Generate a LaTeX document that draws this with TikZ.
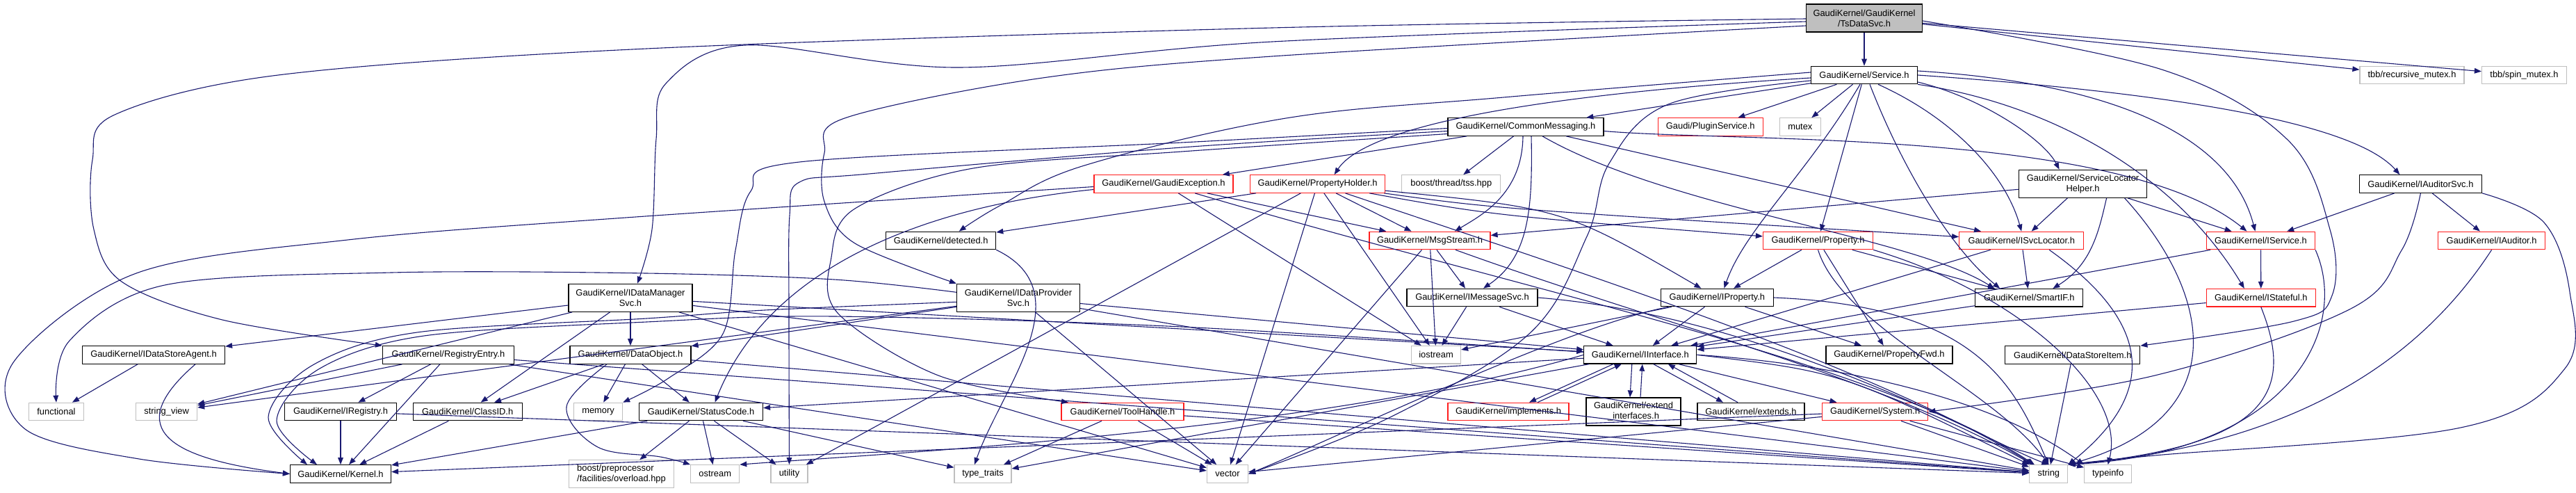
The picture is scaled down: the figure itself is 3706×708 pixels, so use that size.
\documentclass[tikz,border=0pt]{standalone}
\usepackage{fontspec}
\setmainfont{Liberation Sans}
\usetikzlibrary{arrows.meta}
\definecolor{edgeblue}{RGB}{25,25,112}
\definecolor{doxred}{RGB}{255,30,30}
\definecolor{extgray}{RGB}{191,191,191}
\tikzset{
  box/.style={rectangle, inner sep=0pt, minimum height=12.75pt, font=\fontsize{6.45}{7.5}\selectfont, line width=0.6pt},
  doc/.style={box, draw=black},
  redbox/.style={box, draw=doxred},
  ext/.style={box, draw=extgray},
  rootbox/.style={box, draw=black, fill=extgray},
  two/.style={minimum height=20pt, align=center},
  bw/.style={minimum width=#1*0.5pt},
  e/.style={draw=edgeblue, line width=0.55pt, -{Triangle[length=5pt,width=3.8pt]}},
}
\begin{document}
\begin{tikzpicture}[x=0.5pt,y=-0.5pt]
\useasboundingbox (0,0) rectangle (3706,708);
% ---------- nodes
\node[rootbox,two,bw=167] (r) at (2682,26) {GaudiKernel/GaudiKernel\\/TsDataSvc.h};
\node[doc,bw=153] (svc) at (2682,108) {GaudiKernel/Service.h};
\node[ext,bw=150] (tbbrec) at (3470,108) {tbb/recursive\_mutex.h};
\node[ext,bw=122] (tbbspin) at (3631.5,108) {tbb/spin\_mutex.h};
\node[doc,bw=224] (cm) at (2195,182.5) {GaudiKernel/CommonMessaging.h};
\node[redbox,bw=151] (plug) at (2460.7,182.5) {Gaudi/PluginService.h};
\node[ext,bw=59] (mutex) at (2589.8,182.5) {mutex};
\node[redbox,bw=200] (gexc) at (1674,264.5) {GaudiKernel/GaudiException.h};
\node[redbox,bw=194] (ph) at (1895.6,264.5) {GaudiKernel/PropertyHolder.h};
\node[ext,bw=142] (tss) at (2087.8,264.5) {boost/thread/tss.hpp};
\node[doc,two,bw=184] (slh) at (2996.6,264.3) {GaudiKernel/ServiceLocator\\Helper.h};
\node[doc,bw=176] (ias) at (3482.4,264.5) {GaudiKernel/IAuditorSvc.h};
\node[doc,bw=158] (det) at (1353.7,346) {GaudiKernel/detected.h};
\node[redbox,bw=174] (msg) at (2057,346) {GaudiKernel/MsgStream.h};
\node[redbox,bw=158] (prop) at (2615.5,346) {GaudiKernel/Property.h};
\node[redbox,bw=179] (isl) at (2908.2,346) {GaudiKernel/ISvcLocator.h};
\node[redbox,bw=156] (isvc) at (3252.5,346) {GaudiKernel/IService.h};
\node[redbox,bw=154] (iaud) at (3584.6,346) {GaudiKernel/IAuditor.h};
\node[doc,two,bw=178] (idms) at (907,428.3) {GaudiKernel/IDataManager\\Svc.h};
\node[doc,two,bw=177] (idps) at (1465,428.3) {GaudiKernel/IDataProvider\\Svc.h};
\node[doc,bw=188] (imsg) at (2118,428) {GaudiKernel/IMessageSvc.h};
\node[doc,bw=162] (iprop) at (2470.4,428) {GaudiKernel/IProperty.h};
\node[doc,bw=155] (sif) at (2919.3,428.3) {GaudiKernel/SmartIF.h};
\node[redbox,bw=157] (ist) at (3252.8,428.3) {GaudiKernel/IStateful.h};
\node[doc,bw=205] (idsa) at (221,510.5) {GaudiKernel/IDataStoreAgent.h};
\node[doc,bw=189] (regent) at (645,510.5) {GaudiKernel/RegistryEntry.h};
\node[doc,bw=174] (dobj) at (907,510.5) {GaudiKernel/DataObject.h};
\node[ext,bw=71] (iostream) at (2066,510.3) {iostream};
\node[doc,bw=162] (iint) at (2359.8,510.3) {GaudiKernel/IInterface.h};
\node[doc,bw=182] (pfwd) at (2718,510.3) {GaudiKernel/PropertyFwd.h};
\node[doc,bw=194] (dsi) at (2981.8,510.5) {GaudiKernel/DataStoreItem.h};
\node[ext,bw=79] (functional) at (81,592) {functional};
\node[ext,bw=88] (strview) at (239.6,592) {string\_view};
\node[doc,bw=161] (ireg) at (490,592) {GaudiKernel/IRegistry.h};
\node[doc,bw=157] (classid) at (672.6,592) {GaudiKernel/ClassID.h};
\node[ext,bw=70] (memory) at (860.6,592) {memory};
\node[doc,bw=178] (sc) at (1008.5,592) {GaudiKernel/StatusCode.h};
\node[redbox,bw=176] (th) at (1615,592) {GaudiKernel/ToolHandle.h};
\node[redbox,bw=174] (impl) at (2170,592) {GaudiKernel/implements.h};
\node[doc,two,bw=136] (extint) at (2350,592) {GaudiKernel/extend\\\_interfaces.h};
\node[doc,bw=154] (extends) at (2519,592) {GaudiKernel/extends.h};
\node[redbox,bw=152] (sys) at (2697.7,592) {GaudiKernel/System.h};
\node[doc,bw=145] (kernel) at (490,681.5) {GaudiKernel/Kernel.h};
\node[ext,two,bw=151,align=left] (bpp) at (894,681.7) {boost/preprocessor\\/facilities/overload.hpp};
\node[ext,bw=70] (ostream) at (1028.7,681.5) {ostream};
\node[ext,bw=53] (utility) at (1135.5,681.5) {utility};
\node[ext,bw=82] (tt) at (1414,681.5) {type\_traits};
\node[ext,bw=59] (vector) at (1766,681.5) {vector};
\node[ext,bw=55] (string) at (2947.3,681.5) {string};
\node[ext,bw=68] (typeinfo) at (3032.6,681.5) {typeinfo};
% ---------- edges: root
\draw[e] (r) -- (svc);
\draw[e] (r) -- (tbbrec);
\draw[e] (r) -- (tbbspin);
\draw[e] plot[smooth,tension=0.55] coordinates {([yshift=-0.5pt]r.west) (1830,40) (930,70) (400,108) (165,165) (133,230) (135,330) (175,405) (320,460) (regent.north west)};
\draw[e] plot[smooth,tension=0.55] coordinates {([yshift=-2.5pt]r.west) (1830,60) (1380,97) (1072,65) (958,120) (944,200) (938,330) ([xshift=5pt]idms.north)};
\draw[e] plot[smooth,tension=0.55] coordinates {([yshift=-5.5pt]r.west) (1830,81) (1493,113) (1215,170) (1186,220) (1186,290) (1230,350) (idps.north west)};
\draw[e] plot[smooth,tension=0.6] coordinates {([yshift=-2pt]r.east) (3110,100) (3290,200) (3352,330) (3355,425) (3300,462) (dsi.north east)};
% service
\draw[e] (svc) -- (cm);
\draw[e] (svc) -- (plug);
\draw[e] (svc) -- (mutex);
\draw[e] ([yshift=-2pt]svc.west) .. controls (2150,140) and (1960,190) .. ([xshift=12pt]ph.north);
\draw[e] plot[smooth,tension=0.6] coordinates {([yshift=2pt]svc.west) (2163,140) (1850,170) (1560,238) (1440,295) ([xshift=13pt]det.north)};
\draw[e] plot[smooth,tension=0.6] coordinates {([yshift=-4pt]svc.west) (2400,150) (2315,235) (2283,340) (2200,480) (2000,600) (vector.east)};
\draw[e] ([xshift=-3pt]svc.south) .. controls (2600,250) and (2510,330) .. ([xshift=5pt]iprop.north);
\draw[e] (svc) -- (prop);
\draw[e] ([xshift=10pt]svc.south) .. controls (2810,170) and (2885,250) .. (isl.north);
\draw[e] ([xshift=4pt]svc.south) .. controls (2740,250) and (2810,360) .. ([xshift=-21pt]sif.north);
\draw[e] (svc.south east) .. controls (2950,150) and (3130,250) .. ([xshift=-12pt]ist.north);
\draw[e] ([yshift=-5pt]svc.east) .. controls (2850,140) and (2940,200) .. ([xshift=-17pt]slh.north);
\draw[e] ([yshift=3pt]svc.east) .. controls (3050,120) and (3210,200) .. ([xshift=-4pt]isvc.north);
\draw[e] (svc.east) .. controls (3150,135) and (3390,180) .. ([xshift=-15pt]ias.north);
% common messaging
\draw[e] (cm) -- (gexc);
\draw[e] (cm) -- (tss);
\draw[e] ([xshift=-2pt]cm.south) .. controls (2190,280) and (2130,310) .. ([xshift=18pt]msg.north);
\draw[e] ([xshift=4pt]cm.south) .. controls (2205,300) and (2200,370) .. ([xshift=8pt]imsg.north);
\draw[e] ([yshift=-3pt]cm.east) .. controls (2500,205) and (3050,185) .. ([xshift=-10pt]isvc.north);
\draw[e] (cm) -- (isl);
\draw[e] ([xshift=12pt]cm.south) .. controls (2400,300) and (2750,340) .. ([xshift=-25pt]sif.north);
\draw[e] plot[smooth,tension=0.55] coordinates {([yshift=-1pt]cm.west) (1700,205) (1150,233) (1080,275) (1058,360) (1040,480) (960,545) (memory.north east)};
\draw[e] plot[smooth,tension=0.55] coordinates {([yshift=-3pt]cm.west) (1700,212) (1250,250) (1150,262) (1136,310) (1135,450) (utility.north)};
\draw[e] plot[smooth,tension=0.55] coordinates {([yshift=-5pt]cm.west) (1700,218) (1400,242) (1230,300) (1196,370) (1205,450) (1350,540) ([xshift=-39pt]th.north)};
% gaudi exception
\draw[e] plot[smooth,tension=0.55] coordinates {([yshift=-2pt]gexc.west) (900,313) (500,345) (196,393) (20,520) (36,617) (200,660) (kernel.west)};
\draw[e] ([yshift=-4pt]gexc.west) .. controls (1300,300) and (1100,400) .. ([xshift=10pt]sc.north);
\draw[e] (gexc) -- (msg);
\draw[e] (gexc) -- (iostream);
\draw[e] (gexc) .. controls (2200,420) and (2700,520) .. (string);
% property holder
\draw[e] (ph) -- (det);
\draw[e] (ph) -- (msg);
\draw[e] (ph) -- (iostream);
\draw[e] (ph) .. controls (2150,310) .. (prop);
\draw[e] (ph) .. controls (2250,300) .. (iprop);
\draw[e] (ph) .. controls (2150,300) .. (isl);
\draw[e] (ph) .. controls (2300,400) and (2700,530) .. (string);
\draw[e] (ph) -- (vector);
\draw[e] (ph) -- (utility);
% msgstream
\draw[e] (msg) -- (imsg);
\draw[e] (msg) -- (iostream);
\draw[e] (msg) .. controls (2400,470) and (2700,540) .. (string);
\draw[e] (msg) -- (vector);
% imessagesvc
\draw[e] (imsg) -- (iostream);
\draw[e] (imsg) -- (iint);
\draw[e] (imsg.east) .. controls (2550,455) and (2870,640) .. (string.north);
% iproperty
\draw[e] (iprop) -- (iint);
\draw[e] (iprop) -- (pfwd);
\draw[e] (iprop) -- (iostream);
\draw[e] (iprop.east) .. controls (2850,440) and (2900,560) .. (string.north);
\draw[e] (iprop) .. controls (2250,470) and (1900,640) .. (vector.east);
% property
\draw[e] (prop) -- (iprop);
\draw[e] (prop) -- (pfwd);
\draw[e] (prop) -- (sif);
\draw[e] (prop.south east) .. controls (2900,420) and (3060,560) .. (typeinfo.north);
\draw[e] (prop.south) .. controls (2650,470) and (2870,560) .. (string.north);
% isvclocator, iservice, istateful, smartif
\draw[e] (isl) -- (sif);
\draw[e] (isl) -- (iint);
\draw[e] ([xshift=20pt]isl.south) .. controls (3090,460) and (3110,560) .. (string.north east);
\draw[e] (isvc) -- (ist);
\draw[e] (isvc.south east) .. controls (3380,470) and (3300,650) .. (string.north east);
\draw[e] (isvc) -- (iint);
\draw[e] (ist) -- (iint);
\draw[e] (ist.south) .. controls (3300,560) and (3270,640) .. (string.north east);
\draw[e] (sif) -- (iint);
% service locator helper
\draw[e] (slh) -- (isl);
\draw[e] (slh) -- (isvc);
\draw[e] ([xshift=17pt]slh.south) .. controls (3020,330) and (3010,380) .. ([xshift=17pt]sif.north);
\draw[e] ([xshift=30pt]slh.south) .. controls (3180,420) and (3220,600) .. (string.north east);
\draw[e] (slh) -- (msg);
% auditor svc
\draw[e] (ias) -- (isvc);
\draw[e] (ias) -- (iaud);
\draw[e] plot[smooth,tension=0.6] coordinates {(ias.south) (3455,360) (3380,445) (3100,540) (sys.east)};
\draw[e] plot[smooth,tension=0.6] coordinates {(ias.south east) (3660,320) (3697,420) (3690,530) (3540,615) (3100,655) (string.north east)};
\draw[e] (iaud.south) .. controls (3480,520) and (3300,640) .. (string.north east);
\draw[e] (dsi) -- (string);
% idatamanagersvc
\draw[e] (idms) -- (idsa);
\draw[e] (idms) -- (dobj);
\draw[e] (idms) -- (classid);
\draw[e] (idms) -- (strview);
\draw[e] (idms) -- (iint);
\draw[e] (idms) -- (string);
\draw[e] (idms) -- (vector);
% idataprovidersvc
\draw[e] (idps) -- (dobj);
\draw[e] plot[smooth,tension=0.55] coordinates {([yshift=4pt]idps.west) (1200,402) (930,393) (563,392) (237,410) (100,490) (functional.north)};
\draw[e] (idps) -- (strview);
\draw[e] plot[smooth,tension=0.55] coordinates {([yshift=-3pt]idps.west) (1100,446) (930,458) (600,478) (450,525) (386,600) ([xshift=-24pt]kernel.north)};
\draw[e] (idps) -- (iint);
\draw[e] (idps) -- (string);
\draw[e] (idps) -- (vector);
% registry entry etc.
\draw[e] (regent) -- (ireg);
\draw[e] (regent) -- (strview);
\draw[e] (regent) -- (kernel);
\draw[e] (regent) -- (vector);
\draw[e] (regent) -- (string);
\draw[e] (ireg) -- (kernel);
\draw[e] (ireg) -- (string);
\draw[e] (classid) -- (kernel);
\draw[e] (idsa) -- (functional);
\draw[e] ([xshift=30pt]idsa.south) .. controls (170,620) and (250,660) .. (kernel.west);
% data object
\draw[e] (dobj) -- (classid);
\draw[e] (dobj) -- (sc);
\draw[e] (dobj) -- (memory);
\draw[e] plot[smooth,tension=0.6] coordinates {([xshift=-17pt]dobj.south) (815,585) (860,643) (950,657) (ostream.north west)};
\draw[e] (dobj) -- (string);
% status code
\draw[e] (sc) -- (bpp);
\draw[e] (sc) -- (ostream);
\draw[e] (sc) -- (utility);
\draw[e] (sc) -- (tt);
\draw[e] (sc) -- (kernel);
% tool handle
\draw[e] (th) -- (tt);
\draw[e] (th) -- (vector);
\draw[e] (th) -- (string);
% iinterface
\draw[e] ([xshift=-19.5pt]iint.south) -- ([xshift=15pt]impl.north);
\draw[e] ([xshift=21pt]impl.north) -- ([xshift=-13.5pt]iint.south);
\draw[e] ([xshift=-6pt]iint.south) -- ([xshift=-2.5pt]extint.north);
\draw[e] ([xshift=5pt]extint.north) -- ([xshift=1.5pt]iint.south);
\draw[e] ([xshift=9.5pt]iint.south) -- ([xshift=-20pt]extends.north);
\draw[e] ([xshift=-9.5pt]extends.north) -- ([xshift=20pt]iint.south);
\draw[e] (iint) -- (sys);
\draw[e] plot[smooth,tension=0.55] coordinates {([yshift=2pt]iint.west) (1700,470) (1200,455) (930,463) (610,483) (460,530) (398,605) ([xshift=-17pt]kernel.north)};
\draw[e] (iint) -- (sc);
\draw[e] (iint.west) .. controls (1900,620) and (1300,650) .. (ostream.north east);
\draw[e] (iint) -- (tt);
\draw[e] (iint.east) .. controls (2600,520) and (2850,560) .. (typeinfo.north west);
\draw[e] (iint.east) .. controls (2650,535) .. (string.north west);
% system
\draw[e] (sys) -- (kernel);
\draw[e] (sys) -- (string);
\draw[e] (sys) -- (typeinfo);
\draw[e] (sys) -- (vector);
% detected
\draw[e] (det.south east) .. controls (1560,420) and (1440,560) .. ([xshift=-6pt]tt.north);
\end{tikzpicture}
\end{document}
